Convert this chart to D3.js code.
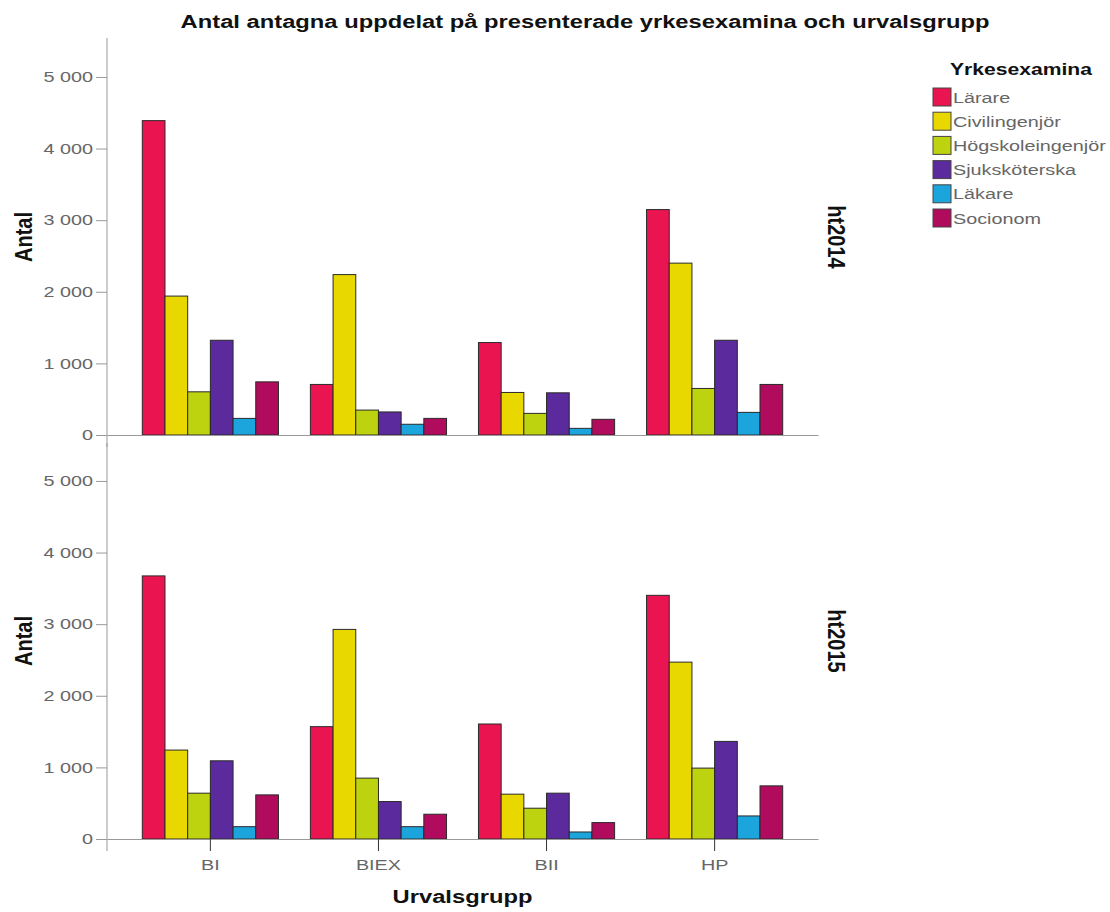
<!DOCTYPE html>
<html>
<head>
<meta charset="utf-8">
<script src="https://cdn.jsdelivr.net/npm/d3@7"></script>
<style>
  body { margin: 0; background: #fff; }
  text { font-family: "Liberation Sans", Arial, sans-serif; }
</style>
</head>
<body>
<script>
// data
const groups = ["BI", "BIEX", "BII", "HP"];
const yrken = ["Lärare", "Civilingenjör", "Högskoleingenjör", "Sjuksköterska", "Läkare", "Socionom"];
const terms = ["ht2014", "ht2015"];
const colors = ["#ea1550", "#e8d800", "#bdd30f", "#5b2a9c", "#1ca5dd", "#b00b5c"];
// one row per urvalsgrupp, one value per yrkesexamen
const ht2014 = [
  [4390, 1940, 603, 1323, 232, 742],
  [706, 2240, 348, 322, 150, 232],
  [1291, 594, 302, 589, 93, 219],
  [3148, 2400, 650, 1323, 316, 706]
];
const ht2015 = [
  [3674, 1242, 640, 1092, 172, 616],
  [1569, 2927, 850, 523, 172, 346],
  [1606, 626, 430, 640, 98, 229],
  [3403, 2470, 990, 1363, 322, 742]
];
const yTicks = [0, 1000, 2000, 3000, 4000, 5000];

const w = 1110, h = 912;
const left = 107, right = 818;
const panelH = 396;
const panelTops = [39, 443];
const sx = 1.32; // text looks stretched sideways in the original

const svg = d3.select("body").append("svg").attr("width", w).attr("height", h);

const fmt = d3.formatLocale({ decimal: ",", thousands: " ", grouping: [3], currency: ["", ""] }).format(",d");

const x0 = d3.scaleBand().domain(groups).range([left, right]).paddingInner(0.19).paddingOuter(0.21);
const x1 = d3.scaleBand().domain(yrken).range([0, x0.bandwidth()]);
const y = d3.scaleLinear().domain([0, 5530]).range([panelH, 0]);

// title
svg.append("text")
  .attr("transform", "translate(585,28) scale(" + sx + ",1)")
  .attr("text-anchor", "middle")
  .attr("font-size", 18).attr("font-weight", "bold").attr("fill", "#111")
  .text("Antal antagna uppdelat på presenterade yrkesexamina och urvalsgrupp");

[ht2014, ht2015].forEach(function (data, p) {
  const g = svg.append("g").attr("transform", "translate(0," + panelTops[p] + ")");

  // bars
  g.selectAll("g.grp")
    .data(data)
    .enter()
    .append("g")
    .attr("transform", function (d, i) { return "translate(" + x0(groups[i]) + ",0)"; })
    .selectAll("rect")
    .data(function (d) { return d; })
    .enter()
    .append("rect")
    .attr("x", function (d, j) { return x1(yrken[j]); })
    .attr("y", function (d) { return y(d); })
    .attr("width", x1.bandwidth())
    .attr("height", function (d) { return panelH - y(d); })
    .attr("fill", function (d, j) { return colors[j]; })
    .attr("stroke", "#2a2a2a")
    .attr("stroke-width", 1);

  // y axis
  const ya = g.append("g")
    .attr("transform", "translate(" + left + ",0)")
    .call(d3.axisLeft(y).tickValues(yTicks).tickFormat(fmt).tickSize(11).tickSizeOuter(0));
  ya.select(".domain").attr("stroke", "#999").attr("d", "M0," + (p === 0 ? -1 : 0) + "V" + (panelH + 12));
  ya.selectAll(".tick line").attr("stroke", "#999");
  ya.selectAll(".tick text")
    .attr("x", -14 / sx)
    .attr("transform", "scale(" + sx + ",1)")
    .attr("font-size", 15).attr("fill", "#666");

  // x axis
  const xa = g.append("g")
    .attr("transform", "translate(0," + panelH + ")")
    .call(d3.axisBottom(x0).tickSize(p === 1 ? 12 : 0).tickSizeOuter(0).tickFormat(p === 1 ? null : ""));
  xa.select(".domain").attr("stroke", "#999");
  xa.selectAll(".tick line").attr("stroke", "#333");
  xa.selectAll(".tick text")
    .attr("y", 31).attr("dy", 0)
    .attr("transform", "scale(" + sx + ",1)")
    .attr("font-size", 15).attr("fill", "#666");

  // y title
  svg.append("text")
    .attr("transform", "translate(32," + (panelTops[p] + panelH / 2) + ") scale(1.15,1) rotate(-90)")
    .attr("text-anchor", "middle")
    .attr("font-size", 20).attr("font-weight", "bold").attr("fill", "#111")
    .text("Antal");

  // panel label
  svg.append("text")
    .attr("transform", "translate(828," + (panelTops[p] + panelH / 2) + ") scale(1.15,1) rotate(90)")
    .attr("text-anchor", "middle")
    .attr("font-size", 20).attr("font-weight", "bold").attr("fill", "#111")
    .text(terms[p]);
});

// x title
svg.append("text")
  .attr("transform", "translate(" + (left + right) / 2 + ",903) scale(" + sx + ",1)")
  .attr("text-anchor", "middle")
  .attr("font-size", 18).attr("font-weight", "bold").attr("fill", "#111")
  .text("Urvalsgrupp");

// legend
const lg = svg.append("g").attr("transform", "translate(933,0)");
lg.append("text")
  .attr("transform", "translate(17,75) scale(" + sx + ",1)")
  .attr("font-size", 16).attr("font-weight", "bold").attr("fill", "#111")
  .text("Yrkesexamina");
const item = lg.selectAll("g.item")
  .data(yrken)
  .enter()
  .append("g")
  .attr("transform", function (d, i) { return "translate(0," + (97 + i * 24.2) + ")"; });
item.append("rect")
  .attr("x", 0).attr("y", -9).attr("width", 18).attr("height", 18)
  .attr("fill", function (d, i) { return colors[i]; })
  .attr("stroke", "#444").attr("stroke-width", 1);
item.append("text")
  .attr("transform", "translate(20,5.5) scale(" + sx + ",1)")
  .attr("font-size", 15).attr("fill", "#666")
  .text(function (d) { return d; });
</script>
</body>
</html>
